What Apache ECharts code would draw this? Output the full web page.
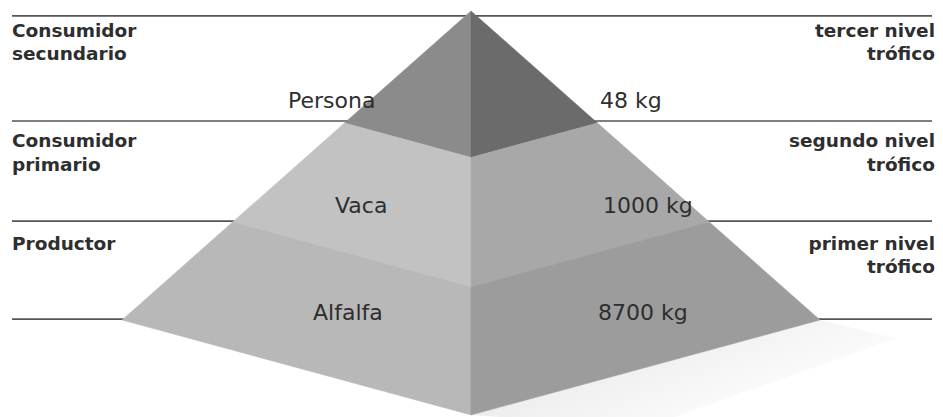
<!DOCTYPE html>
<html><head><meta charset="utf-8">
<script src="https://cdn.jsdelivr.net/npm/echarts@6/dist/echarts.min.js"></script>
<style>html,body{margin:0;padding:0;background:#fff}#c{width:943px;height:417px}</style>
</head><body><div id="c"></div>
<script>
// ---- data ----
const organisms = ['Persona', 'Vaca', 'Alfalfa'];
const biomassKg = [48, 1000, 8700];
const roles = [['Consumidor', 'secundario'], ['Consumidor', 'primario'], ['Productor']];
const levels = [['tercer nivel', 'trófico'], ['segundo nivel', 'trófico'], ['primer nivel', 'trófico']];
const tierTop = [0, 0.3625, 0.683];      // fraction of pyramid height (side corners)
const tierBottom = [0.3625, 0.683, 1];
const guideLines = [0.016, 0.356, 0.680, 0.997];

// ---- styles / layout ----
const faceColors = [['#8b8b8b', '#6b6b6b'], ['#c2c2c2', '#a8a8a8'], ['#b8b8b8', '#9c9c9c']];
const DEPTH = 1.3074;                    // front vertex drop factor
const nameX = [288, 335, 313];
const valueX = [600, 603, 598];
const tierTextBaseline = [108, 213, 320];
const roleBaselines = [[37, 60], [147, 171], [250, 273]];
const SIDE_FONT = 18.5, IN_FONT = 22;
const FONT = '"DejaVu Sans", sans-serif';
const TEXT_COLOR = '#2e2e2e';

const chart = echarts.init(document.getElementById('c'), null, { renderer: 'svg' });
const W = 943;

function mid(baseline, fs) { return baseline - 0.346 * fs; }

function sideText(x, baseline, str, align) {
  return {
    type: 'text',
    style: {
      x: x, y: mid(baseline, SIDE_FONT), text: str, align: align, verticalAlign: 'middle',
      font: 'bold ' + SIDE_FONT + 'px ' + FONT, fill: TEXT_COLOR
    }
  };
}

function renderGuide(params, api) {
  const y = api.coord([0, api.value(1)])[1];
  return {
    type: 'line',
    shape: { x1: 12, y1: y, x2: W - 11, y2: y },
    style: { stroke: '#555', lineWidth: 1.7 }
  };
}

function renderTier(params, api) {
  const i = params.dataIndex;
  const f0 = api.value(1), f1 = api.value(2);
  const P = (x, y) => api.coord([x, y]);
  const A = P(-f0, f0), B = P(0, f0 * DEPTH), C = P(f0, f0);
  const D = P(-f1, f1), E = P(0, f1 * DEPTH), F = P(f1, f1);
  const children = [];
  if (i === organisms.length - 1) {
    // soft ground shadow to the right of the base
    const S1 = P(f1 * 1.22, f1 * 1.06), S2 = P(f1 * 0.5, f1 * DEPTH * 1.03);
    children.push({
      type: 'polygon',
      shape: { points: [E, F, S1, S2] },
      style: {
        fill: new echarts.graphic.LinearGradient(0, 0, 1, 0.6, [
          { offset: 0, color: 'rgba(160,160,160,0.35)' },
          { offset: 0.7, color: 'rgba(180,180,180,0.1)' },
          { offset: 1, color: 'rgba(200,200,200,0)' }
        ])
      }
    });
  }
  children.push({
    type: 'polygon', shape: { points: [A, B, E, D] },
    style: { fill: faceColors[i][0], stroke: faceColors[i][0], lineWidth: 0.5 }
  });
  children.push({
    type: 'polygon', shape: { points: [B, C, F, E] },
    style: { fill: faceColors[i][1], stroke: faceColors[i][1], lineWidth: 0.5 }
  });
  children.push({
    type: 'text',
    style: {
      x: nameX[i], y: mid(tierTextBaseline[i], IN_FONT), text: organisms[i],
      align: 'left', verticalAlign: 'middle', font: IN_FONT + 'px ' + FONT, fill: TEXT_COLOR
    }
  });
  children.push({
    type: 'text',
    style: {
      x: valueX[i], y: mid(tierTextBaseline[i], IN_FONT), text: biomassKg[i] + ' kg',
      align: 'left', verticalAlign: 'middle', font: IN_FONT + 'px ' + FONT, fill: TEXT_COLOR
    }
  });
  roles[i].forEach((s, k) => children.push(sideText(12, roleBaselines[i][k], s, 'left')));
  levels[i].forEach((s, k) => children.push(sideText(935, roleBaselines[i][k], s, 'right')));
  return { type: 'group', children: children };
}

chart.setOption({
  animation: false,
  backgroundColor: '#fff',
  grid: { left: 122, right: 123, top: 11, bottom: 97 },
  xAxis: { type: 'value', min: -1, max: 1, show: false },
  yAxis: { type: 'value', min: 0, max: 1, inverse: true, show: false },
  series: [
    {
      type: 'custom', clip: false, z: 1,
      data: guideLines.map((v, i) => [i, v]),
      renderItem: renderGuide
    },
    {
      type: 'custom', clip: false, z: 2,
      data: organisms.map((n, i) => [i, tierTop[i], tierBottom[i]]),
      renderItem: renderTier
    }
  ]
});
</script>
</body></html>
